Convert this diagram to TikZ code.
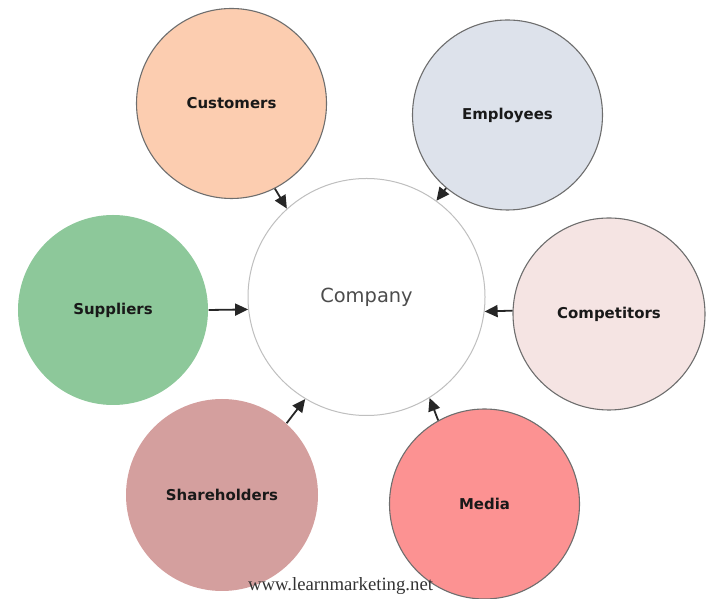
\documentclass[tikz,border=0pt]{standalone}
\usepackage{fontspec}
\newfontfamily\labelfont{DejaVu Sans}
\newfontfamily\sitefont{Liberation Serif}
\usetikzlibrary{arrows.meta}
\definecolor{custfill}{HTML}{FCCDB0}
\definecolor{emplfill}{HTML}{DDE2EB}
\definecolor{suppfill}{HTML}{8DC89A}
\definecolor{compfill}{HTML}{F5E4E3}
\definecolor{sharfill}{HTML}{D49F9E}
\definecolor{mediafill}{HTML}{FC9292}
\definecolor{rimcol}{HTML}{6E6E6E}

\begin{document}
\begin{tikzpicture}[x=1bp,y=1bp,
  party/.style={circle,draw=rimcol,line width=1.1bp,minimum size=190bp,inner sep=0pt,
    font=\labelfont\bfseries\fontsize{15}{17}\selectfont,text=black!90},
  plain party/.style={party,draw=none},
  link/.style={-{Triangle[length=13bp,width=12bp]},line width=1.8bp,black!85}]

\useasboundingbox (0,0) rectangle (707,599);

\node at (366.5,302) [circle,draw=black!25,line width=1bp,minimum size=237bp,fill=white,
  font=\labelfont\fontsize{19.5}{22}\selectfont,text=black!70] (company) {Company};

\node at (231.5,495.5) [party,fill=custfill] (cust) {Customers};
\node at (507.5,484) [party,fill=emplfill] (empl) {Employees};
\node at (113,289) [plain party,fill=suppfill] (supp) {Suppliers};
\node at (609,285) [party,fill=compfill,minimum size=192bp] (comp) {Competitors};
\node at (222,104) [plain party,fill=sharfill,minimum size=192bp] (shar) {Shareholders};
\node at (484.5,95) [party,fill=mediafill] (media) {Media};

\draw[link] (cust.-63) -- (company.132);
\draw[link] (empl.230) -- (company.54);
\draw[link] (supp.0) -- (company.186);
\draw[link] (comp.178) -- (company.-7);
\draw[link] (shar.48) -- (company.239);
\draw[link] (media.119) -- (company.-58);

\node at (340.5,13) [font=\sitefont\fontsize{18.8}{21}\selectfont,text=black!80] (site) {www.learnmarketing.net};

\end{tikzpicture}
\end{document}
